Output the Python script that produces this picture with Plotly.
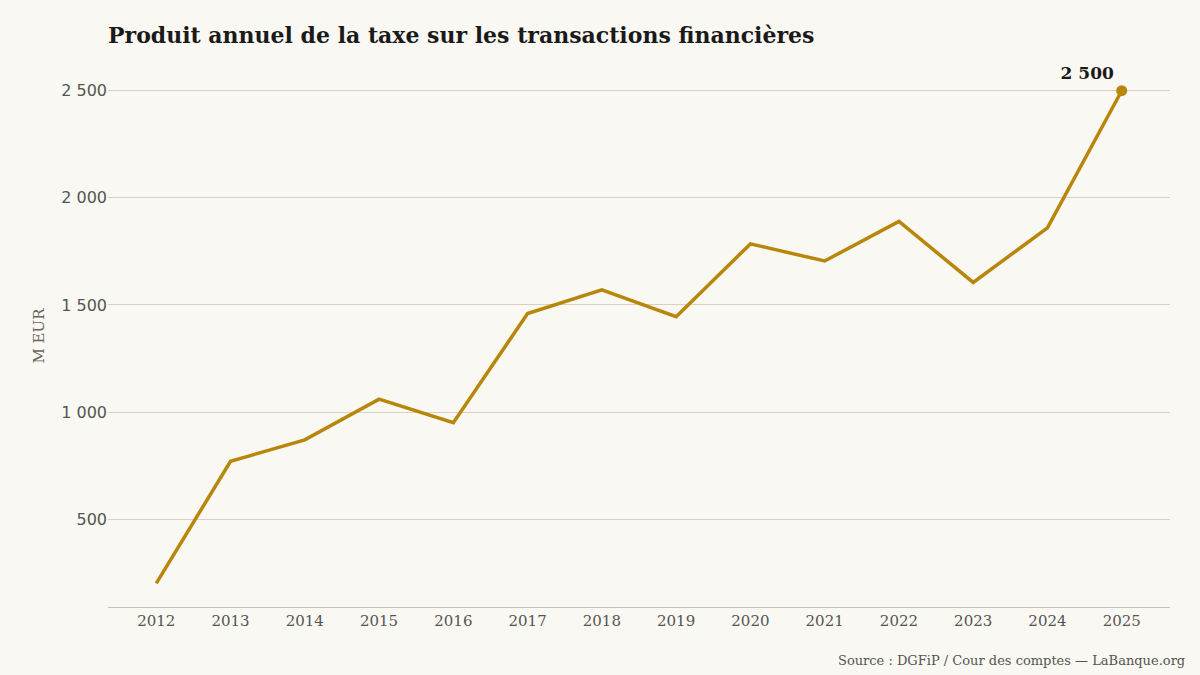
import plotly.graph_objects as go

years = [2012, 2013, 2014, 2015, 2016, 2017, 2018, 2019, 2020, 2021, 2022, 2023, 2024, 2025]
produit = [200, 770, 870, 1060, 950, 1460, 1570, 1445, 1785, 1705, 1890, 1605, 1860, 2500]
tick_vals = [500, 1000, 1500, 2000, 2500]
tick_text = ["500", "1 000", "1 500", "2 000", "2 500"]

gold = "#b8860b"
fig = go.Figure()
fig.add_trace(go.Scatter(x=years, y=produit, mode="lines",
                         line=dict(color=gold, width=3.5), hoverinfo="skip"))
fig.add_trace(go.Scatter(x=[years[-1]], y=[produit[-1]], mode="markers+text",
                         marker=dict(color=gold, size=11),
                         text=["2 500"], textposition="top left",
                         textfont=dict(family="DejaVu Serif", size=17, color="#1a1a1a"),
                         texttemplate="<b>%{text}</b>"))
fig.update_layout(
    width=1200, height=675, showlegend=False,
    paper_bgcolor="#faf8f2", plot_bgcolor="#faf8f2",
    margin=dict(l=108, r=30, t=65, b=68),
    title=dict(text="<b>Produit annuel de la taxe sur les transactions financières</b>",
               x=0, xref="paper", y=0.948, yanchor="middle",
               font=dict(family="DejaVu Serif", size=22, color="#1a1a1a")),
    xaxis=dict(tickvals=years, range=[2011.35, 2025.65], showgrid=False,
               showline=True, linecolor="#c9c2b4", ticks="",
               tickfont=dict(family="DejaVu Serif", size=15, color="#555")),
    yaxis=dict(tickvals=tick_vals, ticktext=tick_text, range=[90, 2620],
               gridcolor="#d8d0c3", zeroline=False, ticks="",
               tickfont=dict(family="DejaVu Sans", size=16, color="#555"),
               title=dict(text="M EUR", standoff=12,
                          font=dict(family="DejaVu Serif", size=15, color="#666"))),
    annotations=[dict(text="Source : DGFiP / Cour des comptes — LaBanque.org",
                      xref="paper", yref="paper", x=1.016, y=-0.116,
                      xanchor="right", showarrow=False,
                      font=dict(family="DejaVu Serif", size=13, color="#555"))],
)
fig.write_html("out.html", config={"displayModeBar": False},
               post_script="document.body.style.margin='0';document.body.style.background='#faf8f2';")
